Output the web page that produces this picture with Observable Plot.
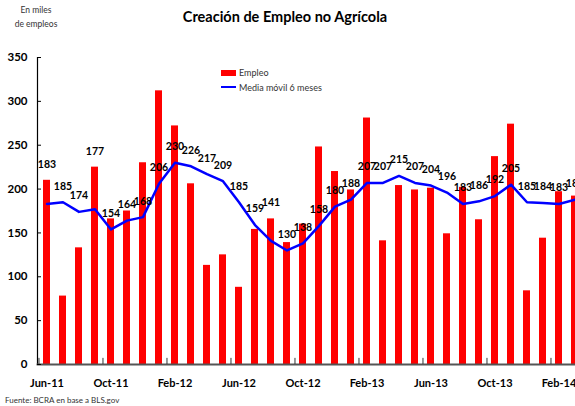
<!DOCTYPE html>
<html><head><meta charset="utf-8">
<script src="https://cdn.jsdelivr.net/npm/d3@7"></script>
<script src="https://cdn.jsdelivr.net/npm/@observablehq/plot@0.6"></script>
<style>
body{margin:0;background:#fff;}
#wrap{position:relative;width:575px;height:406px;overflow:hidden;font-family:Lato,"DejaVu Sans",sans-serif;}
#chart{position:absolute;left:0;top:0;}
.t{position:absolute;white-space:nowrap;}
</style></head><body>
<div id="wrap">
  <div id="chart"></div>
  <div class="t" style="left:0;width:570px;top:7px;line-height:20px;text-align:center;font-weight:700;font-size:14.5px;color:#000;">Creación de Empleo no Agrícola</div>
  <div class="t" style="left:0;width:72px;top:4px;line-height:12px;text-align:center;font-size:8.5px;color:#333;">En miles</div>
  <div class="t" style="left:0;width:72px;top:18px;line-height:12px;text-align:center;font-size:8.5px;color:#333;">de empleos</div>
  <div class="t" style="left:221px;top:70px;width:15px;height:6px;background:#ff0000;"></div>
  <div class="t" style="left:239px;top:67px;line-height:12px;font-size:9px;color:#333;">Empleo</div>
  <div class="t" style="left:221px;top:86px;width:15px;height:2px;background:#0000ff;"></div>
  <div class="t" style="left:239px;top:82px;line-height:12px;font-size:9px;color:#333;">Media móvil 6 meses</div>
  <div class="t" style="left:5px;top:395px;line-height:10px;font-size:8px;color:#333;">Fuente: BCRA en base a BLS.gov</div>
</div>
<script>
const months = ["Jun-11","Jul-11","Aug-11","Sep-11","Oct-11","Nov-11","Dec-11",
  "Jan-12","Feb-12","Mar-12","Apr-12","May-12","Jun-12","Jul-12","Aug-12","Sep-12","Oct-12","Nov-12","Dec-12",
  "Jan-13","Feb-13","Mar-13","Apr-13","May-13","Jun-13","Jul-13","Aug-13","Sep-13","Oct-13","Nov-13","Dec-13",
  "Jan-14","Feb-14","Mar-14"];
const empleo = [210,78,133,225,166,175,230,
  312,272,206,113,125,88,154,166,139,160,248,220,
  199,281,141,204,199,201,149,202,165,237,274,84,
  144,197,192];
const media = [183,185,174,177,154,164,168,
  206,230,226,217,209,185,159,141,130,138,158,180,
  188,207,207,215,207,204,196,183,186,192,205,185,
  184,183,188];
const xTickLabels = ["Jun-11","Oct-11","Feb-12","Jun-12","Oct-12","Feb-13","Jun-13","Oct-13","Feb-14"];
const yTicks = [0,50,100,150,200,250,300,350];
const labelAboveBar = ["Jun-11","Sep-11","Aug-12"];

const data = months.map((m,i)=>({mes:m, empleo:empleo[i], media:media[i]}));
const step = 16.06;

const plot = Plot.plot({
  width:575, height:406,
  marginLeft:37, marginTop:57, marginBottom:42, marginRight:0,
  style:{fontFamily:"Lato, 'DejaVu Sans', sans-serif", fontSize:"11.5px", fontWeight:700, color:"#000", background:"transparent"},
  x:{type:"band", domain:months, range:[37, 37+months.length*step], paddingInner:0.56, paddingOuter:0.28, align:0.5, label:null},
  y:{domain:[0,350], range:[364,57], label:null},
  marks:[
    Plot.barY(data,{x:"mes", y:"empleo", fill:"#ff0000"}),
    Plot.lineY(data,{x:"mes", y:"media", stroke:"#0000ff", strokeWidth:2.5}),
    Plot.text(data,{x:"mes", y:d=>labelAboveBar.includes(d.mes)?d.empleo:d.media, text:d=>String(d.media), dy:-16, fontWeight:700, fontSize:10.5, fill:"#000"}),
    Plot.frame({anchor:"left", stroke:"#000", strokeWidth:1.2}),
    Plot.frame({anchor:"bottom", stroke:"#555", strokeWidth:1.8}),
    Plot.ruleX(xTickLabels,{x:d=>d, y1:0, y2:7, dx:-step/2, stroke:"#333", strokeWidth:1}),
    Plot.axisY({ticks:yTicks, tickSize:4, dx:4, tickFormat:()=>"", stroke:"#000", label:null}),
    Plot.axisY({ticks:yTicks, tickSize:0, tickPadding:10, fontSize:11.5, fontWeight:700, fill:"#000", label:null}),
    Plot.axisX({ticks:xTickLabels, tickSize:0, tickPadding:15, fontSize:11, fontWeight:700, fill:"#000", label:null})
  ]
});
document.getElementById("chart").appendChild(plot);
</script>
</body></html>
